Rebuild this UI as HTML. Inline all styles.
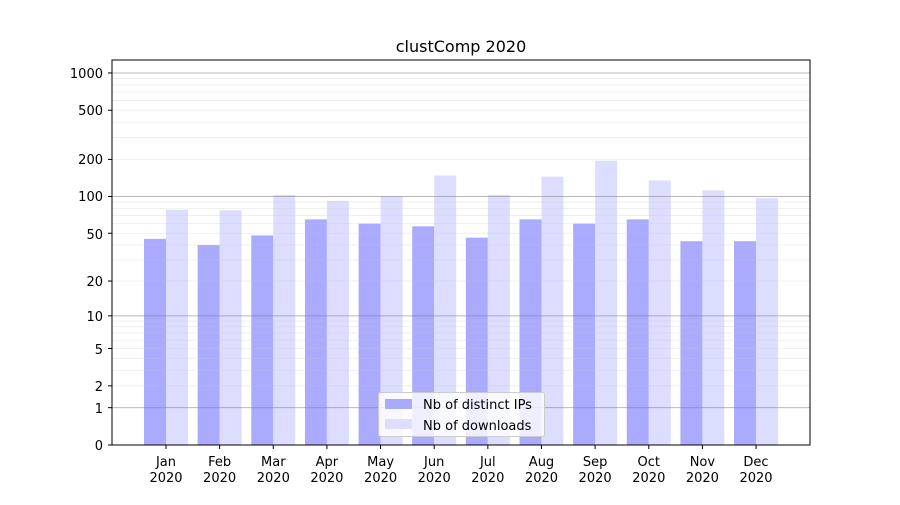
<!DOCTYPE html>
<html><head><meta charset="utf-8"><style>
body{margin:0;background:#fff}
svg text{font-family:"DejaVu Sans","Liberation Sans",sans-serif;font-size:13px;fill:#000}
</style></head><body>
<svg id="s" width="900" height="500" xmlns="http://www.w3.org/2000/svg">
<rect width="900" height="500" fill="#fff"/>
<g id="bars"></g>
<g id="grid"></g>
<rect x="112" y="60" width="698" height="385" fill="none" stroke="#000" stroke-width="1"/>
<text x="461" y="52" text-anchor="middle" style="font-size:16px">clustComp 2020</text>
<g text-anchor="end">
<text x="103" y="450">0</text>
<text x="103" y="413">1</text>
<text x="103" y="391">2</text>
<text x="103" y="354">5</text>
<text x="103" y="321">10</text>
<text x="103" y="286">20</text>
<text x="103" y="239">50</text>
<text x="103" y="201">100</text>
<text x="103" y="164">200</text>
<text x="103" y="115">500</text>
<text x="103" y="78">1000</text>
</g>
<g id="xt" text-anchor="middle">
<text x="166" y="466">Jan</text><text x="166" y="482">2020</text>
<text x="219.6" y="466">Feb</text><text x="219.6" y="482">2020</text>
<text x="273.3" y="466">Mar</text><text x="273.3" y="482">2020</text>
<text x="326.9" y="466">Apr</text><text x="326.9" y="482">2020</text>
<text x="380.6" y="466">May</text><text x="380.6" y="482">2020</text>
<text x="434.2" y="466">Jun</text><text x="434.2" y="482">2020</text>
<text x="487.8" y="466">Jul</text><text x="487.8" y="482">2020</text>
<text x="541.5" y="466">Aug</text><text x="541.5" y="482">2020</text>
<text x="595.1" y="466">Sep</text><text x="595.1" y="482">2020</text>
<text x="648.8" y="466">Oct</text><text x="648.8" y="482">2020</text>
<text x="702.4" y="466">Nov</text><text x="702.4" y="482">2020</text>
<text x="756" y="466">Dec</text><text x="756" y="482">2020</text>
</g>
<g id="ticks"></g>
<g>
<rect x="378.5" y="392.5" width="166" height="44" fill="#fff" fill-opacity="0.8" stroke="#ccc" rx="2"/>
<rect x="385" y="399" width="27" height="10" fill="#aaaaff"/>
<rect x="385" y="419" width="27" height="10" fill="#ddddff"/>
<text x="423" y="409">Nb of distinct IPs</text>
<text x="423" y="430">Nb of downloads</text>
</g>
</svg>
<script>
var NS="http://www.w3.org/2000/svg";
function y(v){return 445-124*Math.log10(1+v);}
function el(p,t,a){var e=document.createElementNS(NS,t);for(var k in a)e.setAttribute(k,a[k]);document.getElementById(p).appendChild(e);}
[1,10,100,1000].forEach(function(d){for(var m=1;m<10;m++){var v=d*m;if(v>1000&&m>1)break;var yy=y(v);if(yy<60)continue;
el("grid","line",{x1:112,x2:810,y1:yy,y2:yy,stroke:m==1?"#808080":"#c8c8c8","stroke-opacity":m==1?0.55:0.35,"stroke-width":m==1?1:0.8});}});
[0,1,2,5,10,20,50,100,200,500,1000].forEach(function(v){var yy=y(v);el("ticks","line",{x1:108,x2:112,y1:yy,y2:yy,stroke:"#000"});});
var a=[45,40,48,65,60,57,46,65,60,65,43,43],b=[78,77,103,92,101,148,103,145,195,135,112,97];
for(var i=0;i<12;i++){var c=166+i*53.64;
el("bars","rect",{x:c-22,y:y(a[i]),width:22,height:445-y(a[i]),fill:"#aaaaff"});
el("bars","rect",{x:c,y:y(b[i]),width:22,height:445-y(b[i]),fill:"#ddddff"});
el("ticks","line",{x1:c,x2:c,y1:445,y2:449,stroke:"#000"});}
</script>
</body></html>
